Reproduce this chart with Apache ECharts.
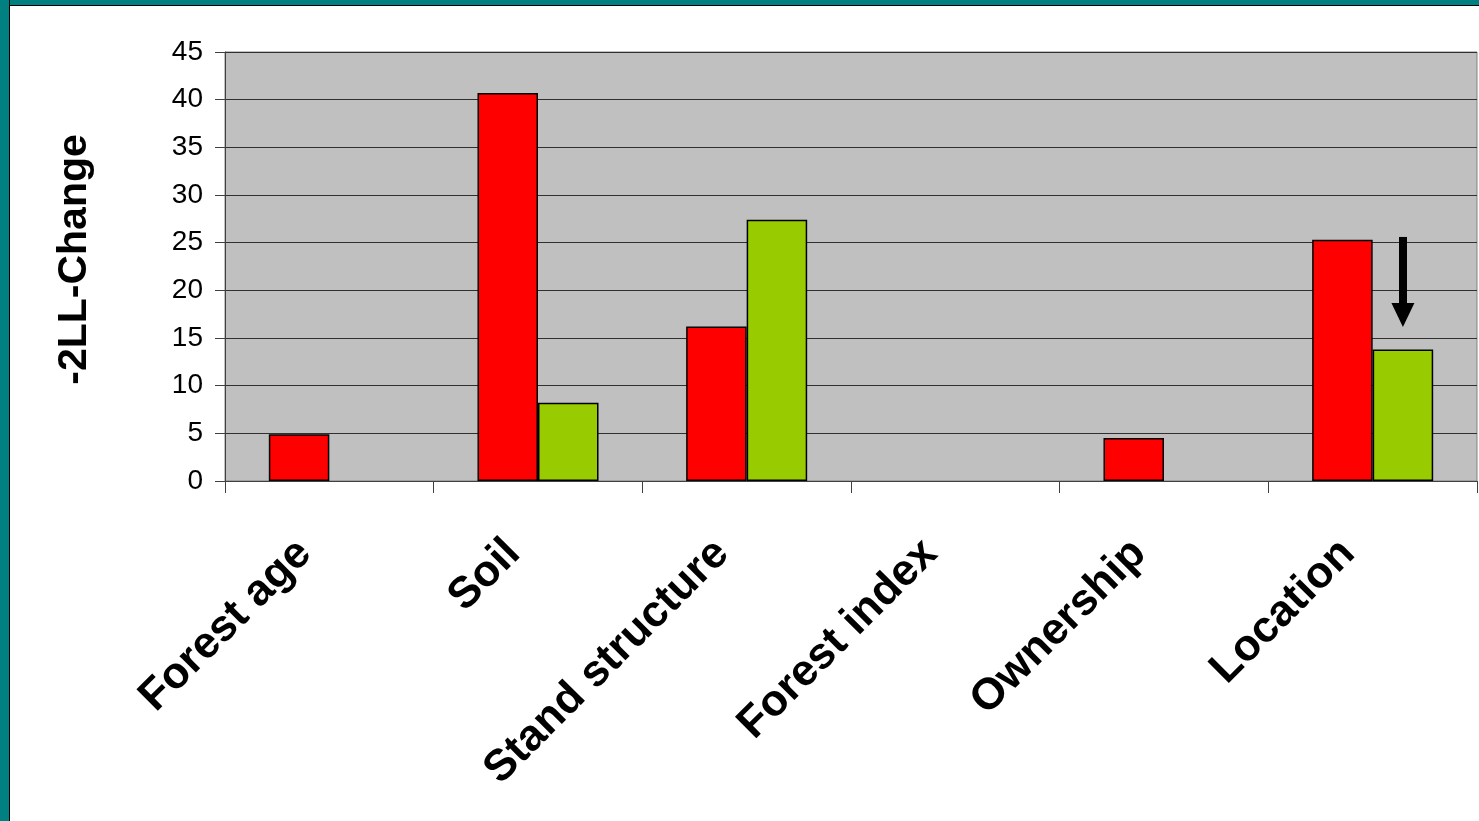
<!DOCTYPE html>
<html>
<head>
<meta charset="utf-8">
<script src="https://cdn.jsdelivr.net/npm/echarts@6/dist/echarts.min.js"></script>
<style>
  html, body { margin: 0; padding: 0; background: #fff; }
  #chart { position: absolute; left: 0; top: 0; width: 1479px; height: 821px; }
  /* slide frame: teal band with a thin dark rule on the left and top */
  #frameLeft { position: absolute; left: 0; top: 0; width: 9px; height: 821px; background: #008080; border-right: 1.5px solid #000; }
  #frameTop { position: absolute; left: 0; top: 0; width: 1479px; height: 5px; background: #008080; border-bottom: 1.5px solid #000; }
</style>
</head>
<body>
<div id="chart"></div>
<div id="frameTop"></div>
<div id="frameLeft"></div>
<script>
// Explanatory factor groups
const categories = ['Forest age', 'Soil', 'Stand structure', 'Forest index', 'Ownership', 'Location'];
// -2 log-likelihood change per factor group (null = not in model)
const redValues = [4.9, 40.7, 16.2, null, 4.5, 25.3];
const greenValues = [null, 8.2, 27.4, null, null, 13.8];
// Y axis range and step
const yMin = 0;
const yMax = 45;
const yStep = 5;
// Arrow drawn above the reduced Location value
const arrowFrom = 25.6;
const arrowTo = 17.4;

const font = "'Liberation Sans', Arial, sans-serif";
const chart = echarts.init(document.getElementById('chart'), null, { renderer: 'canvas' });

chart.setOption({
  animation: false,
  backgroundColor: 'transparent',
  grid: {
    left: 225, top: 52, right: 2, bottom: 340,
    show: true,
    backgroundColor: '#C0C0C0',
    borderColor: '#808080',
    borderWidth: 1
  },
  xAxis: {
    type: 'category',
    data: categories,
    axisLine: { lineStyle: { color: '#404040', width: 1 } },
    axisTick: { show: true, length: 12, lineStyle: { color: '#404040' } },
    axisLabel: {
      rotate: 45,
      margin: 41,
      interval: 0,
      padding: [0, 35, 0, 0],
      color: '#000',
      fontFamily: font,
      fontWeight: 'bold',
      fontSize: 44
    },
    splitLine: { show: false }
  },
  yAxis: {
    type: 'value',
    min: yMin, max: yMax, interval: yStep,
    name: '-2LL-Change',
    nameLocation: 'middle',
    nameRotate: 90,
    nameGap: 130,
    nameTextStyle: {
      color: '#000', fontFamily: font, fontWeight: 'bold', fontSize: 41,
      padding: [0, 0, 0, 14]
    },
    axisLine: { show: true, lineStyle: { color: '#404040', width: 1 } },
    axisTick: { show: true, length: 10, lineStyle: { color: '#404040' } },
    axisLabel: { margin: 22, color: '#000', fontFamily: font, fontSize: 28 },
    splitLine: { show: true, lineStyle: { color: '#303030', width: 1 } }
  },
  series: [
    {
      name: 'Red',
      type: 'bar',
      data: redValues,
      barGap: '0%',
      barCategoryGap: '42%',
      itemStyle: { color: '#FF0000', borderColor: '#000', borderWidth: 1.5 },
      silent: true
    },
    {
      name: 'Green',
      type: 'bar',
      data: greenValues,
      barGap: '0%',
      barCategoryGap: '42%',
      itemStyle: { color: '#99CC00', borderColor: '#000', borderWidth: 1.5 },
      silent: true,
      markLine: {
        silent: true,
        symbol: ['none', 'triangle'],
        symbolSize: [23, 24],
        label: { show: false },
        lineStyle: { color: '#000', width: 8, type: 'solid' },
        itemStyle: { color: '#000' },
        emphasis: { disabled: true },
        data: [[
          { coord: ['Location', arrowFrom] },
          { coord: ['Location', arrowTo] }
        ]]
      }
    }
  ]
});
</script>
</body>
</html>
